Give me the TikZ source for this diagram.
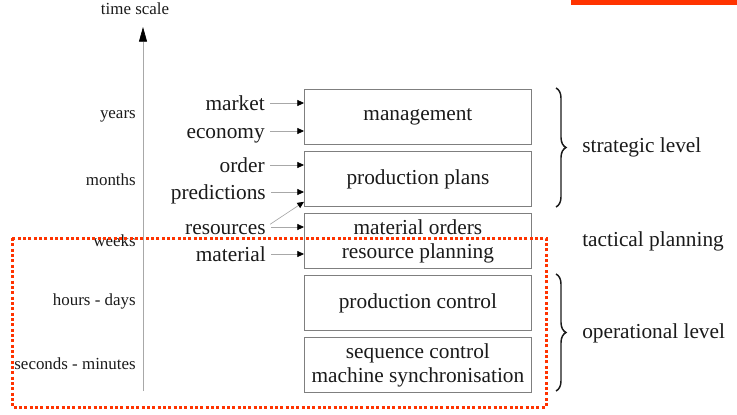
\documentclass[tikz,border=0pt]{standalone}
\usepackage{fontspec}
\setmainfont{Liberation Serif}
\usetikzlibrary{arrows.meta,decorations.pathreplacing}
\definecolor{boxgray}{HTML}{7F7F7F}
\definecolor{linegray}{HTML}{A8A8A8}
\definecolor{redd}{HTML}{FF3300}
\definecolor{textcol}{HTML}{1A1A1A}
\begin{document}
\begin{tikzpicture}[x=0.75pt,y=-0.75pt,
  box/.style={draw=boxgray, line width=0.6pt, minimum width=170.25pt, minimum height=41.25pt,
    inner sep=0pt, align=center, font=\fontsize{16}{18}\selectfont, text=textcol, anchor=north west},
  lbl/.style={anchor=east, inner sep=0pt, text height=10.5pt, text depth=0pt,
    font=\fontsize{16}{18}\selectfont, text=textcol},
  tlbl/.style={anchor=base east, inner sep=0pt, font=\fontsize{12.7}{15}\selectfont, text=textcol},
  lvl/.style={anchor=base west, inner sep=0pt, font=\fontsize{16}{18}\selectfont, text=textcol},
  arr/.style={draw=linegray, line width=0.5pt, shorten <=3.75pt,
    -{Triangle[length=5pt,width=4.5pt,color=black]}},
  bracestyle/.style={decorate, decoration={brace,amplitude=7.5pt}, line width=1.1pt, draw=textcol}
]
\useasboundingbox (0,0) rectangle (737,414);

% red bar
\fill[redd] (571,0) rectangle (737,5);

% time axis
\coordinate (axb) at (143,391);
\coordinate (axt) at (143,27);
\draw[linegray, line width=0.5pt, -{Triangle[length=11pt,width=6pt,color=black]}] (axb) -- (axt);
\node[anchor=base, inner sep=0pt, font=\fontsize{12.7}{15}\selectfont, text=textcol] (ts) at (135,14) {time scale};

\node[tlbl] (years) at (136,118) {years};
\node[tlbl] (months) at (136,185) {months};
\node[tlbl] (weeks) at (136,246) {weeks};
\node[tlbl] (hours) at (136,305) {hours - days};
\node[tlbl] (secs) at (136,369) {seconds - minutes};

% boxes
\node[box] (mgmt) at (304,89) {management};
\node[box] (plans) at (304,151) {production plans};
\node[box] (orders) at (304,213) {material orders\\resource planning};
\node[box] (control) at (304,275) {production control};
\node[box] (seq) at (304,337) {sequence control\\machine synchronisation};

% input labels
\node[lbl] (market) at (265,103) {market};
\node[lbl] (economy) at (265,131) {economy};
\node[lbl] (order) at (265,165) {order};
\node[lbl] (pred) at (266,192) {predictions};
\node[lbl] (res) at (266,227) {resources};
\node[lbl] (mat) at (266,254) {material};

\draw[arr] (market.east) -- (market.east -| mgmt.west);
\draw[arr] (economy.east) -- (economy.east -| mgmt.west);
\draw[arr] (order.east) -- (order.east -| plans.west);
\draw[arr] (pred.east) -- (pred.east -| plans.west);
\draw[arr] (res.east) -- (res.east -| orders.west);
\draw[arr] (res.east) -- ([yshift=3.75pt]plans.south west);
\draw[arr] (mat.east) -- (mat.east -| orders.west);

% braces
\coordinate (b1t) at (556,88);
\coordinate (b1b) at (556,207);
\coordinate (b2t) at (556,274);
\coordinate (b2b) at (556,391);
\draw[bracestyle] (b1t) -- (b1b);
\draw[bracestyle] (b2t) -- (b2b);

\node[lvl] (strat) at (582,152) {strategic level};
\node[lvl] (tact) at (582,246) {tactical planning};
\node[lvl] (oper) at (582,338) {operational level};

% red dotted frame
\draw[redd, line width=2.25pt, dash pattern=on 2.2pt off 1.8pt] (12,238) rectangle (546,407);
\end{tikzpicture}
\end{document}
